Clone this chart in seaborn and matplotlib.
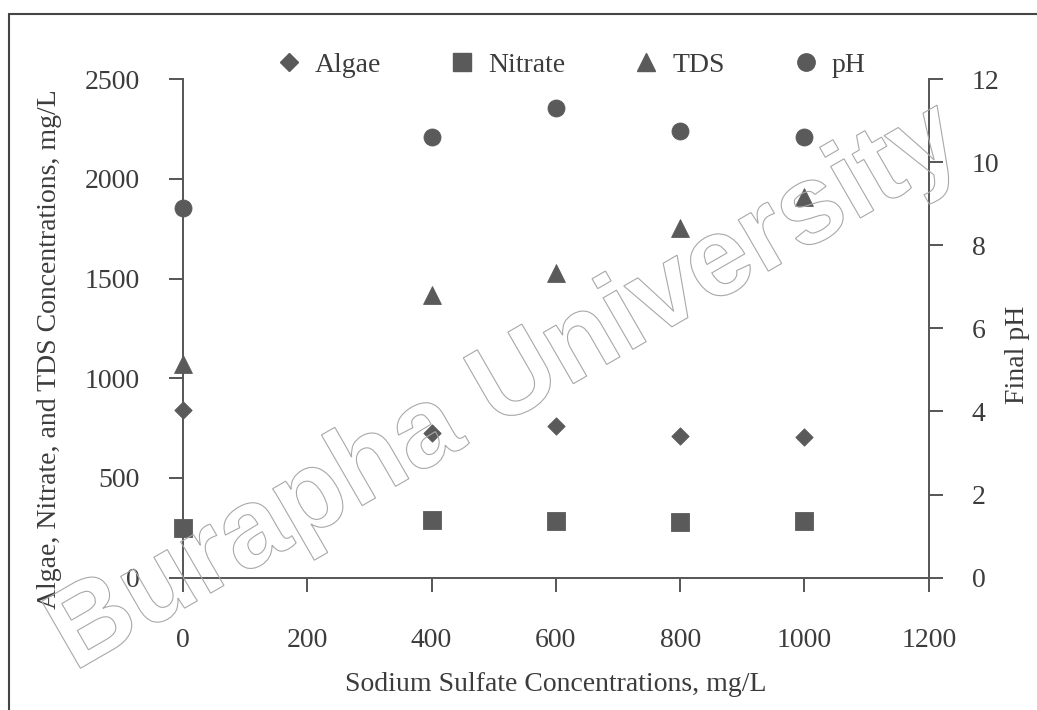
import numpy as np
import pandas as pd
import matplotlib
matplotlib.use("Agg")
import matplotlib.pyplot as plt
import seaborn as sns
from matplotlib.lines import Line2D
import matplotlib.patheffects as pe

# ---- data ----
sodium_sulfate = [0, 400, 600, 800, 1000]
algae = [840, 724, 760, 712, 704]
nitrate = [250, 289, 284, 281, 286]
tds = [1070, 1417, 1527, 1751, 1910]
final_ph = [8.9, 10.6, 11.3, 10.75, 10.6]

x_ticks = [0, 200, 400, 600, 800, 1000, 1200]
left_ticks = [0, 500, 1000, 1500, 2000, 2500]
right_ticks = [0, 2, 4, 6, 8, 10, 12]

df = pd.DataFrame({"x": sodium_sulfate, "Algae": algae, "Nitrate": nitrate,
                   "TDS": tds, "pH": final_ph})

sns.set_theme(style="white")
plt.rcParams["font.family"] = ["Liberation Serif", "DejaVu Serif"]

MC = "#5a5a5a"
TXT = "#3c3c3c"
SP = "#555555"
FS = 20

fig = plt.figure(figsize=(10.37, 7.10), dpi=100)
ax = fig.add_axes([0.1765, 0.1863, 0.7191, 0.7024])
ax2 = ax.twinx()

kw = dict(color=MC, edgecolor=MC, linewidth=0.6, clip_on=False, zorder=5, legend=False)
sns.scatterplot(data=df, x="x", y="Algae", marker="D", s=78, ax=ax, **kw)
sns.scatterplot(data=df, x="x", y="Nitrate", marker="s", s=160, ax=ax, **kw)
sns.scatterplot(data=df, x="x", y="TDS", marker="^", s=165, ax=ax, **kw)
sns.scatterplot(data=df, x="x", y="pH", marker="o", s=150, ax=ax2, **kw)

ax.set_xlim(0, 1200)
ax.set_ylim(0, 2500)
ax2.set_ylim(0, 12)
ax.set_xticks(x_ticks)
ax.set_yticks(left_ticks)
ax2.set_yticks(right_ticks)

for a in (ax, ax2):
    a.set_facecolor("none")
    a.spines["top"].set_visible(False)
    for s in a.spines.values():
        s.set_color(SP)
        s.set_linewidth(1.4)
ax.spines["right"].set_visible(False)
ax2.spines["left"].set_visible(False)
ax2.spines["bottom"].set_visible(False)
ax2.xaxis.set_visible(False)

ax.tick_params(axis="x", direction="out", length=10, width=1.4, color=SP,
               labelsize=FS, labelcolor=TXT, pad=26, bottom=True)
ax.tick_params(axis="y", direction="out", length=10, width=1.4, color=SP,
               labelsize=FS, labelcolor=TXT, pad=21, left=True, right=False)
ax2.tick_params(axis="y", direction="out", length=10, width=1.4, color=SP,
                labelsize=FS, labelcolor=TXT, pad=21, right=True, left=False)

ax.set_xlabel("Sodium Sulfate Concentrations, mg/L", fontsize=FS, color=TXT)
ax.xaxis.set_label_coords(0.5, -0.19)
ax.set_ylabel("Algae, Nitrate, and TDS Concentrations, mg/L", fontsize=FS, color=TXT)
ax.yaxis.set_label_coords(-0.162, 0.459)
ax2.set_ylabel("Final pH", fontsize=FS, color=TXT)
ax2.yaxis.set_label_coords(1.102, 0.447)

handles = [
    Line2D([], [], ls="none", marker="D", ms=9, color=MC, label="Algae"),
    Line2D([], [], ls="none", marker="s", ms=12.5, color=MC, label="Nitrate"),
    Line2D([], [], ls="none", marker="^", ms=12.5, color=MC, label="TDS"),
    Line2D([], [], ls="none", marker="o", ms=12.5, color=MC, label="pH"),
]
leg = fig.legend(handles=handles, loc="center", bbox_to_anchor=(0.55, 0.908),
                 ncol=4, frameon=False, fontsize=FS, handlelength=1.0,
                 handletextpad=0.45, columnspacing=2.4)
for t in leg.get_texts():
    t.set_color(TXT)

# outer frame lines
fig.add_artist(Line2D([9 / 1037, 9 / 1037], [0, 1 - 14 / 710], transform=fig.transFigure,
                      color="#444444", lw=1.5))
fig.add_artist(Line2D([9 / 1037, 1], [1 - 14 / 710, 1 - 14 / 710], transform=fig.transFigure,
                      color="#444444", lw=1.5))

# watermark
fig.text(0.488, 0.452, "Burapha University", rotation=30, fontsize=81,
         family="Liberation Sans", fontweight="bold", ha="center", va="center",
         rotation_mode="anchor", color="#b0b0b0", zorder=10,
         path_effects=[pe.PathPatchEffect(edgecolor="#a8a8a8", facecolor="none", linewidth=0.8)])

fig.savefig("out.png", dpi=100)
